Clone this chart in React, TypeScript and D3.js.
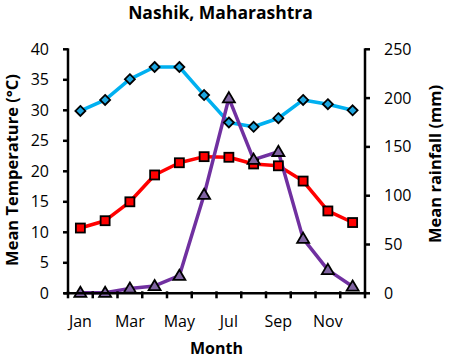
import React from "react";
import * as d3 from "d3";

const months = ["Jan","Feb","Mar","Apr","May","Jun","Jul","Aug","Sep","Oct","Nov","Dec"];
const monthLabels = ["Jan","Mar","May","Jul","Sep","Nov"];
const maxTemp = [29.9, 31.7, 35.1, 37.1, 37.1, 32.5, 28.0, 27.3, 28.7, 31.7, 31.0, 30.0];
const minTemp = [10.7, 11.9, 15.0, 19.4, 21.4, 22.4, 22.3, 21.2, 20.9, 18.4, 13.5, 11.6];
const rainfall = [0.6, 0.6, 5, 7.5, 18, 101, 200, 137, 145, 56, 24, 7];
const tempTicks = [0,5,10,15,20,25,30,35,40];
const rainTicks = [0,50,100,150,200,250];

const W = 449, H = 359;
const L = 68, R = 365, T = 49.3, B = 293.3;
const FONT = "'Open Sans', 'Noto Sans', sans-serif";

export default function App() {
  const x = d3.scaleBand<string>().domain(months).range([L, R]).padding(0);
  const cx = (m: string) => (x(m) as number) + x.bandwidth() / 2;
  const yT = d3.scaleLinear().domain([0, 40]).range([B, T]);
  const yR = d3.scaleLinear().domain([0, 250]).range([B, T]);
  const lineT = d3.line<number>().x((_, i) => cx(months[i])).y(d => yT(d));
  const lineR = d3.line<number>().x((_, i) => cx(months[i])).y(d => yR(d));
  const boundaries = months.map(m => x(m) as number).concat([R]);

  return (
    <svg width={W} height={H} style={{ position: "absolute", left: 0, top: 0 }}>
      <rect width={W} height={H} fill="#fff" />
      <text x={220.5} y={19} textAnchor="middle" fontFamily={FONT} fontWeight="bold" fontSize={17.5}>Nashik, Maharashtra</text>

      {/* lines */}
      <path d={lineT(maxTemp) || ""} fill="none" stroke="#00B0F0" strokeWidth={3.5} strokeLinejoin="round" />
      <path d={lineT(minTemp) || ""} fill="none" stroke="#FF0000" strokeWidth={3.5} strokeLinejoin="round" />
      <path d={lineR(rainfall) || ""} fill="none" stroke="#7030A0" strokeWidth={3.5} strokeLinejoin="round" />

      {/* markers */}
      {maxTemp.map((v, i) => {
        const px = cx(months[i]), py = yT(v), r = 5;
        return <path key={"d" + i} d={`M${px},${py - r}L${px + r},${py}L${px},${py + r}L${px - r},${py}Z`} fill="#1DA6E0" stroke="#000" strokeWidth={1.8} />;
      })}
      {minTemp.map((v, i) => {
        const px = cx(months[i]), py = yT(v), s = 9;
        return <rect key={"s" + i} x={px - s / 2} y={py - s / 2} width={s} height={s} fill="#FF0000" stroke="#000" strokeWidth={1.8} />;
      })}
      {rainfall.map((v, i) => {
        const px = cx(months[i]), py = yR(v), r = 6;
        return <path key={"t" + i} d={`M${px},${py - r}L${px + r},${py + r * 0.7}L${px - r},${py + r * 0.7}Z`} fill="#8064A2" stroke="#000" strokeWidth={1.8} strokeLinejoin="miter" />;
      })}

      {/* axes */}
      <line x1={L} x2={L} y1={T - 1} y2={B + 1} stroke="#000" strokeWidth={2.5} />
      <line x1={R} x2={R} y1={T - 1} y2={B + 1} stroke="#000" strokeWidth={2.5} />
      <line x1={L - 4} x2={R + 1} y1={B} y2={B} stroke="#000" strokeWidth={2.5} />
      {tempTicks.map(t => (
        <g key={"lt" + t}>
          <line x1={L - 5} x2={L} y1={yT(t)} y2={yT(t)} stroke="#000" strokeWidth={2.5} />
          <text x={49} y={yT(t) + 5.5} textAnchor="end" fontFamily={FONT} fontSize={16}>{t}</text>
        </g>
      ))}
      {rainTicks.map(t => (
        <g key={"rt" + t}>
          <line x1={R} x2={R + 5} y1={yR(t)} y2={yR(t)} stroke="#000" strokeWidth={2.5} />
          <text x={384} y={yR(t) + 5.5} textAnchor="start" fontFamily={FONT} fontSize={16}>{t}</text>
        </g>
      ))}
      {boundaries.map((b, i) => (
        <line key={"xt" + i} x1={b} x2={b} y1={B - 2} y2={B + 5} stroke="#000" strokeWidth={2.5} />
      ))}
      {monthLabels.map(m => (
        <text key={"ml" + m} x={cx(m)} y={327} textAnchor="middle" fontFamily={FONT} fontSize={16}>{m}</text>
      ))}
      <text x={216.5} y={354} textAnchor="middle" fontFamily={FONT} fontWeight="bold" fontSize={16}>Month</text>
      <text transform={`translate(18,170) rotate(-90)`} textAnchor="middle" fontFamily={FONT} fontWeight="bold" fontSize={16.5}>Mean Temperature (°C)</text>
      <text transform={`translate(441,164) rotate(-90)`} textAnchor="middle" fontFamily={FONT} fontWeight="bold" fontSize={16.5}>Mean rainfall (mm)</text>
    </svg>
  );
}
